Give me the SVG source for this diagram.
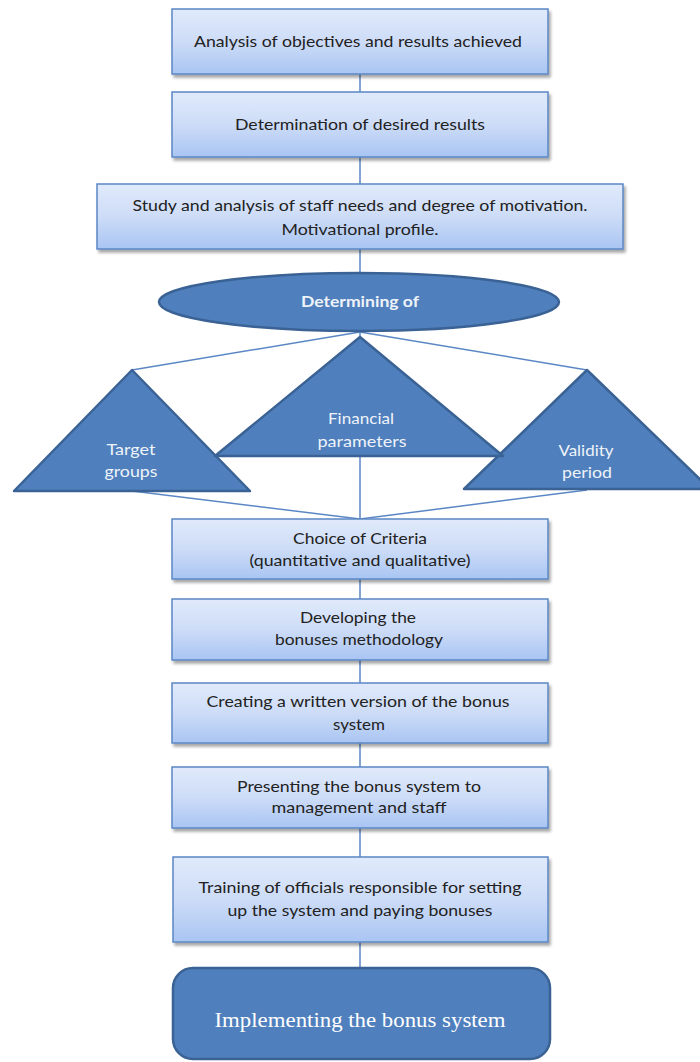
<svg xmlns="http://www.w3.org/2000/svg" width="700" height="1062" viewBox="0 0 700 1062">
<defs>
  <linearGradient id="boxGrad" x1="0" y1="0" x2="0" y2="1">
    <stop offset="0" stop-color="#e0eafb"/>
    <stop offset="0.5" stop-color="#cddcf7"/>
    <stop offset="1" stop-color="#a9c5f3"/>
  </linearGradient>
  <filter id="shadow" x="-5%" y="-10%" width="115%" height="130%">
    <feGaussianBlur in="SourceAlpha" stdDeviation="1.5"/>
    <feOffset dx="2" dy="3" result="b"/>
    <feComponentTransfer><feFuncA type="linear" slope="0.35"/></feComponentTransfer>
    <feMerge><feMergeNode/><feMergeNode in="SourceGraphic"/></feMerge>
  </filter>
</defs>
<style>
  .box { fill: url(#boxGrad); stroke: #5b87c5; stroke-width: 1.5; filter: url(#shadow); }
  .dark { fill: #4f7fbc; stroke: #3a6294; stroke-width: 2.5; }
  .conn { stroke: #5b87c5; stroke-width: 1.5; fill: none; }
  .t { font-family: "Lato", "Open Sans", "Liberation Sans", sans-serif; font-size: 15px; fill: #222; text-anchor: middle; }
  .w { font-family: "Lato", "Open Sans", "Liberation Sans", sans-serif; font-size: 16px; fill: #eef3fa; text-anchor: middle; }
  .wb { font-family: "Lato", "Open Sans", "Liberation Sans", sans-serif; font-size: 15px; font-weight: bold; fill: #eef3fa; text-anchor: middle; }
  .serif { font-family: "Liberation Serif", "Times New Roman", serif; font-size: 22px; fill: #ffffff; text-anchor: middle; }
</style>

<g id="connectors">
  <line class="conn" x1="360" y1="74" x2="360" y2="92"/>
  <line class="conn" x1="360" y1="157" x2="360" y2="184"/>
  <line class="conn" x1="360" y1="249" x2="360" y2="273"/>
  <line class="conn" x1="360" y1="331" x2="360" y2="338"/>
  <line class="conn" x1="360" y1="332" x2="132" y2="370"/>
  <line class="conn" x1="360" y1="332" x2="587" y2="370"/>
  <line class="conn" x1="360" y1="455" x2="360" y2="519"/>
  <line class="conn" x1="132" y1="491" x2="360" y2="519"/>
  <line class="conn" x1="587" y1="490" x2="360" y2="519"/>
  <line class="conn" x1="360" y1="579" x2="360" y2="599"/>
  <line class="conn" x1="360" y1="660" x2="360" y2="683"/>
  <line class="conn" x1="360" y1="743" x2="360" y2="767"/>
  <line class="conn" x1="360" y1="828" x2="360" y2="857"/>
  <line class="conn" x1="360" y1="942" x2="360" y2="968"/>
</g>

<g id="node-analysis">
  <rect class="box" x="172" y="9" width="376" height="65"/>
  <text class="t" x="358" y="47" textLength="328" lengthAdjust="spacingAndGlyphs">Analysis of objectives and results achieved</text>
</g>

<g id="node-determination">
  <rect class="box" x="172" y="92" width="376" height="65"/>
  <text class="t" x="360" y="130" textLength="250" lengthAdjust="spacingAndGlyphs">Determination of desired results</text>
</g>

<g id="node-study">
  <rect class="box" x="97" y="184" width="526" height="65"/>
  <text class="t" x="360" y="211" textLength="455" lengthAdjust="spacingAndGlyphs">Study and analysis of staff needs and degree of motivation.</text>
  <text class="t" x="360" y="235" textLength="157" lengthAdjust="spacingAndGlyphs">Motivational profile.</text>
</g>

<g id="node-determining">
  <ellipse class="dark" cx="359" cy="302" rx="200" ry="29"/>
  <text class="wb" x="360" y="307" textLength="118" lengthAdjust="spacingAndGlyphs">Determining of</text>
</g>

<g id="node-target">
  <polygon class="dark" points="132,370 250,491 14,491" stroke-linejoin="round"/>
  <text class="w" x="131" y="455" textLength="49" lengthAdjust="spacingAndGlyphs">Target</text>
  <text class="w" x="131" y="477" textLength="53" lengthAdjust="spacingAndGlyphs">groups</text>
</g>

<g id="node-validity">
  <polygon class="dark" points="587,370 710,489 464,489" stroke-linejoin="round"/>
  <text class="w" x="586" y="456" textLength="55" lengthAdjust="spacingAndGlyphs">Validity</text>
  <text class="w" x="587" y="478" textLength="50" lengthAdjust="spacingAndGlyphs">period</text>
</g>

<g id="node-financial">
  <polygon class="dark" points="360,337 503,456 215,456" stroke-linejoin="round"/>
  <text class="w" x="361" y="424" textLength="66" lengthAdjust="spacingAndGlyphs">Financial</text>
  <text class="w" x="362" y="447" textLength="89" lengthAdjust="spacingAndGlyphs">parameters</text>
</g>

<g id="node-criteria">
  <rect class="box" x="172" y="519" width="376" height="60"/>
  <text class="t" x="360" y="544" textLength="134" lengthAdjust="spacingAndGlyphs">Choice of Criteria</text>
  <text class="t" x="360" y="566" textLength="221" lengthAdjust="spacingAndGlyphs">(quantitative  and qualitative)</text>
</g>

<g id="node-developing">
  <rect class="box" x="172" y="599" width="376" height="61"/>
  <text class="t" x="358" y="623" textLength="116" lengthAdjust="spacingAndGlyphs">Developing the</text>
  <text class="t" x="359" y="645" textLength="168" lengthAdjust="spacingAndGlyphs">bonuses methodology</text>
</g>

<g id="node-creating">
  <rect class="box" x="172" y="683" width="376" height="60"/>
  <text class="t" x="358" y="707" textLength="303" lengthAdjust="spacingAndGlyphs">Creating a written version of the bonus</text>
  <text class="t" x="359" y="730" textLength="52" lengthAdjust="spacingAndGlyphs">system</text>
</g>

<g id="node-presenting">
  <rect class="box" x="172" y="767" width="376" height="61"/>
  <text class="t" x="359" y="792" textLength="244" lengthAdjust="spacingAndGlyphs">Presenting the bonus system to</text>
  <text class="t" x="359" y="813" textLength="175" lengthAdjust="spacingAndGlyphs">management  and staff</text>
</g>

<g id="node-training">
  <rect class="box" x="173" y="857" width="375" height="85"/>
  <text class="t" x="360" y="893" textLength="323" lengthAdjust="spacingAndGlyphs">Training of officials responsible for setting</text>
  <text class="t" x="360" y="916" textLength="265" lengthAdjust="spacingAndGlyphs">up the system and paying bonuses</text>
</g>

<g id="node-implementing">
  <rect class="dark" x="173" y="968" width="377" height="91" rx="20" ry="20"/>
  <text class="serif" x="360" y="1027" textLength="291" lengthAdjust="spacingAndGlyphs">Implementing the bonus system</text>
</g>
</svg>
